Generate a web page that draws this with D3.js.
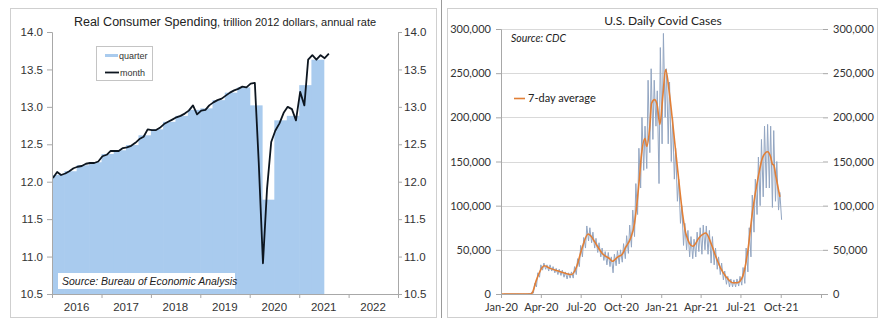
<!DOCTYPE html>
<html><head><meta charset="utf-8">
<script src="https://cdn.jsdelivr.net/npm/d3@7"></script>
<style>body{margin:0;background:#fff}svg{display:block}</style>
</head><body>
<svg id="c" width="883" height="327"></svg>
<script>
// ---------- Left chart data: Real consumer spending (trillion 2012 $) ----------
const spendStartYear = 2016;
const spendMonthly = [
  12.05,12.13,12.09,12.11,12.14,12.18,12.20,12.21,12.24,12.25,12.25,12.27,
  12.34,12.36,12.41,12.41,12.41,12.45,12.46,12.48,12.52,12.57,12.60,12.70,
  12.69,12.69,12.72,12.77,12.80,12.83,12.86,12.88,12.91,12.95,13.02,12.90,
  12.95,12.96,13.02,13.06,13.09,13.11,13.15,13.19,13.22,13.24,13.27,13.26,
  13.31,13.32,12.25,10.91,11.90,12.53,12.68,12.78,12.92,13.00,12.97,12.82,
  13.20,13.02,13.63,13.69,13.63,13.69,13.65,13.71
];
const spendQuarterly = [
  12.09,12.14,12.22,12.26,
  12.37,12.42,12.49,12.62,
  12.70,12.80,12.88,12.96,
  12.98,13.09,13.19,13.26,
  13.02,11.76,12.82,12.88,
  13.29,13.63
];
const spendYearLabels = ["2016","2017","2018","2019","2020","2021","2022"];
const spendTicks = [10.5,11.0,11.5,12.0,12.5,13.0,13.5,14.0];

// ---------- Right chart data: U.S. daily Covid cases (thousands) ----------
const covidWeekStart = "2020-01-06";
const covidDailyHighK = [0,0,0,0,0,0,0,0,0.5,
  2,12,24,33,35,33,33,31,29,28,27,25,24,25,31,40,55,64,77,75,70,63,58,52,48,47,42,45,49,50,57,66,78,95,
  125,165,200,190,242,255,242,230,279,295,255,240,200,165,130,100,80,72,65,62,70,75,78,77,72,65,52,42,
  35,26,20,17,16,17,20,30,52,75,112,130,155,175,190,192,190,185,150,115];
const covidDailyLowK = [0,0,0,0,0,0,0,0,0.2,
  1,8,19,27,28,26,26,24,22,21,19,17,18,18,22,31,42,52,60,58,52,47,42,38,33,31,24,32,34,36,40,46,53,65,
  90,120,140,142,160,175,190,125,170,200,170,150,130,105,80,55,50,42,40,42,48,45,50,45,35,33,28,22,
  16,11,8,8,8,9,10,12,25,42,70,90,100,110,120,120,98,105,95,84];
const covidAvgDates = ["2020-01-03","2020-03-08","2020-03-12","2020-03-22","2020-04-04","2020-04-09","2020-04-22",
  "2020-05-11","2020-05-30","2020-06-10","2020-06-21","2020-07-03","2020-07-18","2020-07-24","2020-08-02",
  "2020-08-21","2020-09-05","2020-09-11","2020-09-24","2020-10-04","2020-10-12","2020-10-23","2020-11-01",
  "2020-11-06","2020-11-12","2020-11-17","2020-11-25","2020-11-29","2020-12-06","2020-12-10","2020-12-17",
  "2020-12-23","2020-12-29","2021-01-05","2021-01-11","2021-01-20","2021-01-28","2021-02-04","2021-02-12",
  "2021-02-19","2021-02-27","2021-03-14","2021-03-29","2021-04-13","2021-04-25","2021-05-06","2021-05-17",
  "2021-05-29","2021-06-13","2021-06-24","2021-07-06","2021-07-17","2021-07-29","2021-08-10","2021-08-21",
  "2021-09-01","2021-09-08","2021-09-12","2021-09-15","2021-09-20","2021-09-29"];
const covidAvgK = [0,0,1,16,30,32,29,26,23,22,30,50,68,66,59,45,40,37,42,45,53,63,80,100,130,158,176,167,190,216,
  220,213,192,226,254,226,190,157,120,90,67,54,64,69,57,42,29,19.6,12.8,12.8,19.6,46,95,131,155,161,155,147,146,133,110];
const covidTicksK = [0,50,100,150,200,250,300];
const covidTickDates = ["2020-01-01","2020-04-01","2020-07-01","2020-10-01","2021-01-01","2021-04-01","2021-07-01","2021-10-01","2022-01-01"];
const covidTickLabels = ["Jan-20","Apr-20","Jul-20","Oct-20","Jan-21","Apr-21","Jul-21","Oct-21",""];

// ---------- drawing ----------
const svg = d3.select("#c");
const parse = d3.timeParse("%Y-%m-%d");
const AR = "'Liberation Sans', Arial, sans-serif";
const CA = "Lato, 'Open Sans', sans-serif";
const txt = "#333";

// panel frames
svg.append("rect").attr("x",10.5).attr("y",8.5).attr("width",426).attr("height",309)
  .attr("fill","none").attr("stroke","#cfcfcf");
svg.append("rect").attr("x",447.5).attr("y",8.5).attr("width",430).attr("height",309)
  .attr("fill","none").attr("stroke","#cfcfcf");
svg.append("line").attr("x1",441.5).attr("x2",441.5).attr("y1",0).attr("y2",318)
  .attr("stroke","#9a9a9a");

// ===== LEFT =====
const xL = d3.scaleTime().domain([new Date(2016,0,1), new Date(2023,0,1)]).range([52,398]);
const yL = d3.scaleLinear().domain([10.5,14]).range([294,32]);
const gL = svg.append("g");

gL.selectAll("rect.q").data(spendQuarterly).join("rect").attr("class","q")
  .attr("x",(d,i)=>xL(new Date(spendStartYear,3*i,1)))
  .attr("width",(d,i)=>xL(new Date(spendStartYear,3*i+3,1))-xL(new Date(spendStartYear,3*i,1))+0.6)
  .attr("y",d=>yL(d)).attr("height",d=>yL(10.5)-yL(d))
  .attr("fill","#a9cbee");

gL.append("path").datum(spendMonthly)
  .attr("d",d3.line().x((d,i)=>xL(new Date(spendStartYear,i,8))).y(d=>yL(d)))
  .attr("fill","none").attr("stroke","#0d1620").attr("stroke-width",1.8).attr("stroke-linejoin","round");

const axL = gL.append("g").attr("transform","translate(52,0)")
  .call(d3.axisLeft(yL).tickValues(spendTicks).tickFormat(d3.format(".1f")).tickSize(5).tickPadding(4));
const axR = gL.append("g").attr("transform","translate(398,0)")
  .call(d3.axisRight(yL).tickValues(spendTicks).tickFormat(d3.format(".1f")).tickSize(4).tickPadding(2));
const yearTicks = d3.range(spendStartYear, spendStartYear+spendYearLabels.length+1).map(y=>new Date(y,0,1));
const axB = gL.append("g").attr("transform","translate(0,294)")
  .call(d3.axisBottom(xL).tickValues(yearTicks).tickFormat("").tickSize(4));
[axL,axR,axB].forEach(a=>{
  a.selectAll("path.domain").attr("stroke","#a8a8a8");
  a.selectAll(".tick line").attr("stroke","#a8a8a8");
  a.selectAll("text").attr("font-family",AR).attr("font-size",11.5).attr("fill",txt);
});
axB.select("path.domain").attr("d","M52,0.5H398");
gL.selectAll("text.yr").data(spendYearLabels).join("text").attr("class","yr")
  .attr("x",(d,i)=>xL(new Date(spendStartYear+i,6,1))).attr("y",311)
  .attr("text-anchor","middle").attr("font-family",AR).attr("font-size",11.5).attr("fill",txt).text(d=>d);

// title
const tL = gL.append("text").attr("x",225).attr("y",26).attr("text-anchor","middle")
  .attr("font-family",AR).attr("fill","#222");
tL.append("tspan").attr("font-size",12.5).text("Real Consumer Spending");
tL.append("tspan").attr("font-size",11).text(", trillion 2012 dollars, annual rate");

// legend
gL.append("rect").attr("x",96.5).attr("y",46.5).attr("width",56).attr("height",34)
  .attr("fill","#fff").attr("stroke","#c4c4c4");
gL.append("rect").attr("x",105).attr("y",54).attr("width",13).attr("height",3).attr("fill","#a9cbee");
gL.append("text").attr("x",119).attr("y",59).attr("font-family",AR).attr("font-size",9).attr("fill",txt).text("quarter");
gL.append("line").attr("x1",105).attr("x2",119).attr("y1",72.5).attr("y2",72.5).attr("stroke","#0d1620").attr("stroke-width",1.8);
gL.append("text").attr("x",120).attr("y",75.5).attr("font-family",AR).attr("font-size",9).attr("fill",txt).text("month");

// source
gL.append("rect").attr("x",58).attr("y",273).attr("width",177).attr("height",16).attr("fill","#fff");
gL.append("text").attr("x",62).attr("y",285).attr("font-family",AR).attr("font-size",10.5)
  .attr("font-style","italic").attr("fill","#222").text("Source: Bureau of Economic Analysis");

// ===== RIGHT =====
const xR = d3.scaleTime().domain([parse("2020-01-01"), parse("2022-01-01")]).range([501,821]);
const yR = d3.scaleLinear().domain([0,300]).range([294,29]);
const gR = svg.append("g");

gR.selectAll("line.grid").data(covidTicksK.filter(v=>v>0)).join("line").attr("class","grid")
  .attr("x1",501).attr("x2",823).attr("y1",d=>Math.round(yR(d))+0.5).attr("y2",d=>Math.round(yR(d))+0.5)
  .attr("stroke","#d9d9d9");

const ws = parse(covidWeekStart);
const dailyPts = [];
covidDailyHighK.forEach((h,i)=>{
  dailyPts.push([d3.timeDay.offset(ws,7*i+2), h]);
  dailyPts.push([d3.timeDay.offset(ws,7*i+6), covidDailyLowK[i]]);
});
gR.append("path").datum(dailyPts)
  .attr("d",d3.line().x(d=>xR(d[0])).y(d=>yR(d[1])))
  .attr("fill","none").attr("stroke","#93a6c2").attr("stroke-width",1);

gR.append("path").datum(covidAvgDates.map((d,i)=>[parse(d),covidAvgK[i]]))
  .attr("d",d3.line().curve(d3.curveMonotoneX).x(d=>xR(d[0])).y(d=>yR(d[1])))
  .attr("fill","none").attr("stroke","#e27f36").attr("stroke-width",1.6);

const fmtK = v=>d3.format(",")(v*1000);
const rL = gR.append("g").attr("transform","translate(501,0)")
  .call(d3.axisLeft(yR).tickValues(covidTicksK).tickFormat(fmtK).tickSize(5).tickPadding(5));
const rR = gR.append("g").attr("transform","translate(823,0)")
  .call(d3.axisRight(yR).tickValues(covidTicksK).tickFormat(fmtK).tickSize(5).tickPadding(5));
rR.select("path.domain").remove();
const rB = gR.append("g").attr("transform","translate(0,294)")
  .call(d3.axisBottom(xR).tickValues(covidTickDates.map(parse)).tickFormat((d,i)=>covidTickLabels[i]).tickSize(4).tickPadding(5));
rB.select("path.domain").attr("d","M501,0.5H823");
[rL,rR,rB].forEach(a=>{
  a.selectAll("path.domain").attr("stroke","#a8a8a8");
  a.selectAll(".tick line").attr("stroke","#a8a8a8");
  a.selectAll("text").attr("font-family",CA).attr("font-size",11).attr("fill",txt);
});

gR.append("text").attr("x",663).attr("y",25).attr("text-anchor","middle")
  .attr("font-family",CA).attr("font-size",12).attr("fill","#222").text("U.S. Daily Covid Cases");
gR.append("text").attr("x",511).attr("y",42).attr("font-family",CA).attr("font-size",10.5)
  .attr("font-style","italic").attr("fill","#222").text("Source: CDC");
gR.append("line").attr("x1",514).attr("x2",525).attr("y1",98.5).attr("y2",98.5).attr("stroke","#e27f36").attr("stroke-width",1.6);
gR.append("text").attr("x",528).attr("y",102).attr("font-family",CA).attr("font-size",11)
  .attr("fill","#222").text("7-day average");
</script>
</body></html>
